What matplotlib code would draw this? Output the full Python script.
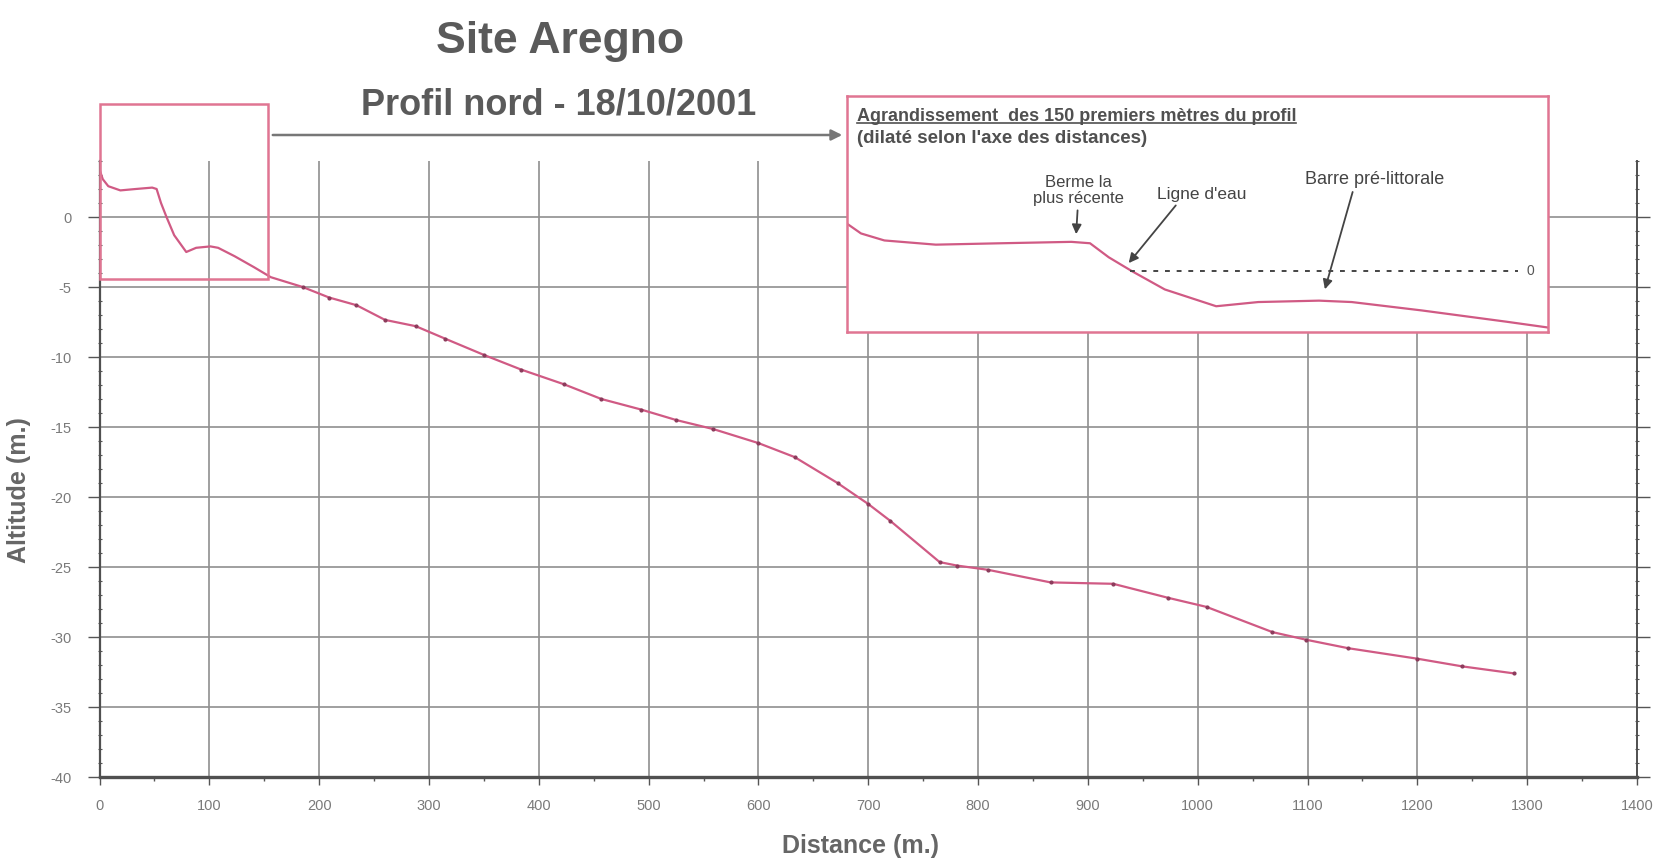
import matplotlib
matplotlib.use("Agg")
import matplotlib.pyplot as plt
import numpy as np
from matplotlib.patches import Rectangle, FancyArrowPatch
from matplotlib.lines import Line2D
from matplotlib.ticker import MultipleLocator

plt.rcParams['font.family'] = ['Liberation Sans', 'DejaVu Sans']
plt.rcParams['axes.unicode_minus'] = False

# Profile data (distance in m, altitude in m)
distance = np.array([0, 3, 8, 19, 33, 48, 52, 56, 61, 68, 79, 88, 101, 108, 123, 141, 156,
                     185, 209, 234, 260, 288, 315, 350, 384, 423, 457, 493, 525, 559, 600,
                     633, 672, 700, 720, 765, 781, 809, 866, 923, 973, 1008, 1068, 1099,
                     1137, 1200, 1241, 1288])
altitude = np.array([3.4, 2.7, 2.2, 1.9, 2.0, 2.1, 2.0, 1.0, 0.0, -1.3, -2.5, -2.2, -2.1,
                     -2.2, -2.8, -3.6, -4.3, -5.0, -5.75, -6.3, -7.35, -7.8, -8.7, -9.85,
                     -10.9, -11.95, -13.0, -13.75, -14.5, -15.15, -16.15, -17.15, -19.0,
                     -20.5, -21.7, -24.65, -24.9, -25.2, -26.1, -26.2, -27.2, -27.85,
                     -29.65, -30.2, -30.8, -31.55, -32.1, -32.6])

x_ticks = np.arange(0, 1401, 100)
y_ticks = np.arange(-40, 1, 5)
zoom_len = 150  # first metres shown in the inset
water_level = 0

title = "Site Aregno"
subtitle = "Profil nord - 18/10/2001"
inset_title = "Agrandissement  des 150 premiers mètres du profil"
inset_sub = "(dilaté selon l'axe des distances)"

line_col = '#d05a84'
pink = '#e07592'
grey_txt = '#5a5a5a'

W, H = 1668, 862
fig = plt.figure(figsize=(W / 100, H / 100), dpi=100)

# main axes
ax = fig.add_axes([99.5 / W, 1 - 778 / H, (1637 - 99.5) / W, 616 / H])
ax.plot(distance, altitude, color=line_col, lw=1.6, zorder=3)
m = distance > 170
ax.plot(distance[m], altitude[m], 'o', ms=2.0, color='#8c3c5c', zorder=4)

ax.set_xlim(0, 1400)
ax.set_ylim(-40, 4)
ax.set_xticks(x_ticks)
ax.set_yticks(y_ticks)
ax.xaxis.set_minor_locator(MultipleLocator(50))
ax.yaxis.set_minor_locator(MultipleLocator(1))
ax.grid(True, which='major', color='#8f8f8f', lw=1.2)
ax.tick_params(axis='x', which='major', length=6, width=1, color='#555', pad=9,
               labelsize=10.5, labelcolor='#7a7a7a')
ax.tick_params(axis='x', which='minor', length=3, width=1, color='#555')
ax.tick_params(axis='y', which='major', length=9, width=1, color='#555', pad=11,
               labelsize=10.5, labelcolor='#7a7a7a', right=True)
ax.tick_params(axis='y', which='minor', length=3, width=0.8, color='#555', right=True,
               direction='inout')
ax.spines['top'].set_visible(False)
ax.spines['bottom'].set_linewidth(2.4)
ax.spines['left'].set_linewidth(1.6)
ax.spines['right'].set_linewidth(1.4)
for s in ['bottom', 'left', 'right']:
    ax.spines[s].set_color('#505050')

# pink frame around the first 150 m
rect = Rectangle((0, -4.43), 153.5, 12.5, fill=False, ec=pink, lw=1.8,
                 clip_on=False, zorder=5)
ax.add_patch(rect)

# titles and axis labels
fig.text(560 / W, 1 - 53 / H, title, ha='center', va='baseline', fontsize=32,
         fontweight='bold', color=grey_txt)
fig.text(559 / W, 1 - 115 / H, subtitle, ha='center', va='baseline', fontsize=26,
         fontweight='bold', color=grey_txt)
fig.text(19 / W, 1 - 490 / H, "Altitude (m.)", rotation=90, ha='center', va='center',
         fontsize=18, fontweight='bold', color='#666666')
fig.text(860 / W, 1 - 846 / H, "Distance (m.)", ha='center', va='center',
         fontsize=18, fontweight='bold', color='#666666')

# arrow from frame to inset
fig.add_artist(FancyArrowPatch(
    (270 / W, 1 - 136 / H), (845 / W, 1 - 136 / H), transform=fig.transFigure,
    arrowstyle='-|>', mutation_scale=16, color='#777777', lw=1.8))

# inset: first 150 m, stretched along distance
ax_in = fig.add_axes([847 / W, 1 - 333 / H, 701 / W, 236 / H], zorder=10)
ax_in.set_facecolor('white')
sel = distance <= zoom_len + 10
ax_in.plot(distance[sel], altitude[sel], color=line_col, lw=1.6)
ax_in.set_xlim(0, zoom_len)
ax_in.set_ylim(-4.34, 12.52)
ax_in.set_xticks([])
ax_in.set_yticks([])
for s in ax_in.spines.values():
    s.set_color(pink)
    s.set_linewidth(1.8)

ax_in.plot([60.6, 143.6], [water_level, water_level], color='#444444', lw=1.4,
           ls=(0, (2.5, 3.5)))
ax_in.text(146.2, water_level + 0.1, "0", ha='center', va='center', fontsize=10,
           color='#555555')

t1 = ax_in.text(0.014, 0.897, inset_title, transform=ax_in.transAxes, ha='left',
                va='baseline', fontsize=13, fontweight='bold', color='#505050')
ax_in.text(0.014, 0.805, inset_sub, transform=ax_in.transAxes, ha='left',
           va='baseline', fontsize=13.5, fontweight='bold', color='#505050')

arrow_kw = dict(arrowstyle='-|>', color='#444444', lw=1.3, mutation_scale=14)
ax_in.annotate("Berme la\nplus récente", xy=(49, 2.45), xytext=(49.6, 5.84),
               ha='center', va='center', fontsize=12, color='#444444',
               linespacing=1.05, arrowprops=arrow_kw)
ax_in.annotate("Ligne d'eau", xy=(59.9, 0.43), xytext=(76, 5.59),
               ha='center', va='center', fontsize=12.5, color='#444444',
               arrowprops=dict(arrow_kw, relpos=(0.25, 0)))
ax_in.annotate("Barre pré-littorale", xy=(102.1, -1.48), xytext=(113, 6.66),
               ha='center', va='center', fontsize=13, color='#444444',
               arrowprops=dict(arrow_kw, relpos=(0.35, 0)))

# underline the inset title
fig.canvas.draw()
bb = t1.get_window_extent().transformed(fig.transFigure.inverted())
fig.add_artist(Line2D([bb.x0, bb.x1], [bb.y0 + 0.002, bb.y0 + 0.002],
                      transform=fig.transFigure, color='#505050', lw=1.2, zorder=20))

fig.savefig("out.png", dpi=100, facecolor='white')
